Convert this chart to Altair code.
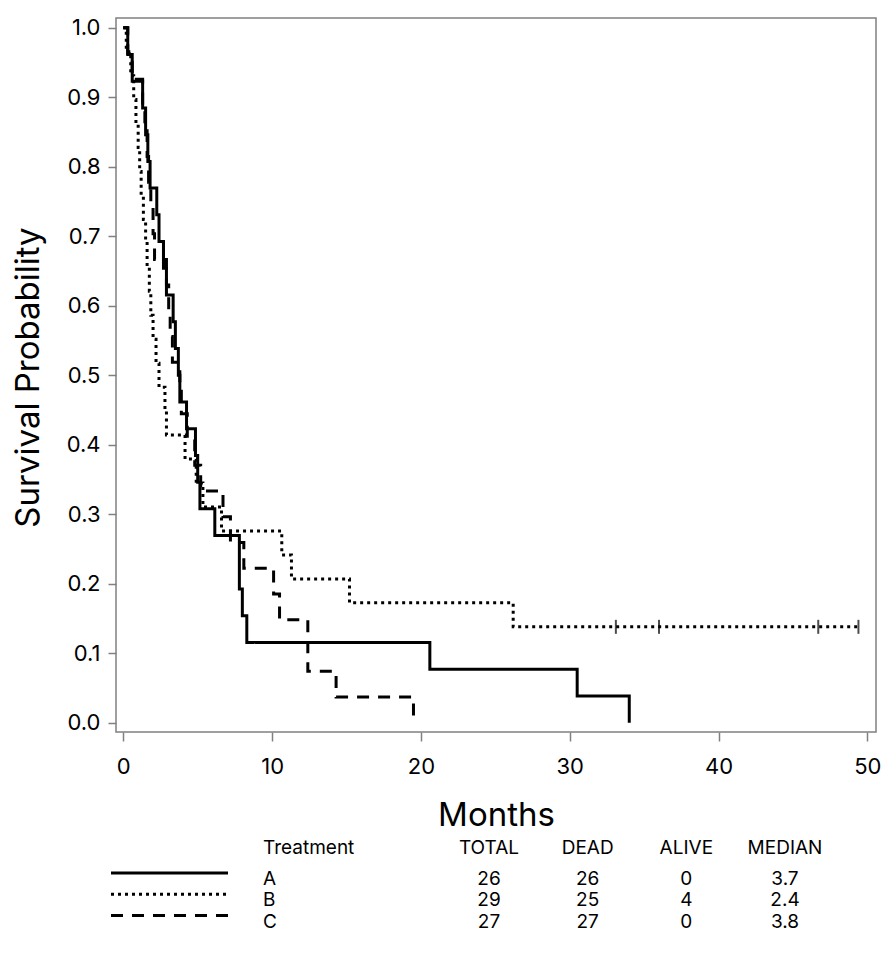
import altair as alt
import pandas as pd

# ---------------- data ----------------
groups = ["A", "B", "C"]
death_times_A = [0.3, 0.6, 1.3, 1.5, 1.65, 1.8, 2.25, 2.4, 2.7, 2.9, 3.35, 3.5, 3.7,
                 3.8, 4.25, 4.85, 5.0, 5.15, 6.15, 7.8, 7.8, 8.0, 8.3, 20.6, 30.5, 34.0]
death_times_B = [0.2, 0.5, 0.7, 0.85, 1.0, 1.1, 1.2, 1.35, 1.5, 1.6, 1.75, 1.85, 2.0,
                 2.2, 2.4, 2.8, 2.9, 4.15, 4.9, 5.35, 6.6, 10.65, 11.3, 15.2, 26.2]
censor_times_B = [33.1, 36.0, 46.7, 49.4]
death_times_C = [0.3, 0.6, 1.3, 1.45, 1.6, 1.7, 1.85, 2.0, 2.1, 2.9, 3.05, 3.15, 3.3,
                 3.8, 3.9, 4.3, 4.8, 5.2, 6.7, 7.2, 8.1, 10.1, 10.5, 12.4, 12.4, 14.3, 19.5]
censor_times_A = []
censor_times_C = []

label_header = "Treatment"
table_cols = ["TOTAL", "DEAD", "ALIVE", "MEDIAN"]
total = ["26", "29", "27"]
dead = ["26", "25", "27"]
alive = ["0", "4", "0"]
median = ["3.7", "2.4", "3.8"]

x_ticks = [0, 10, 20, 30, 40, 50]
y_ticks = [0.0, 0.1, 0.2, 0.3, 0.4, 0.5, 0.6, 0.7, 0.8, 0.9, 1.0]

FONT = "Inter"

# ---------------- Kaplan-Meier curves ----------------
curve_rows = []
censor_rows = []
for g, deaths, cens in [("A", death_times_A, censor_times_A),
                        ("B", death_times_B, censor_times_B),
                        ("C", death_times_C, censor_times_C)]:
    events = sorted([(t, 1) for t in deaths] + [(t, 0) for t in cens])
    n = len(events)
    s = 1.0
    idx = 0
    curve_rows.append({"group": g, "t": 0.0, "S": s, "idx": idx})
    for t, d in events:
        idx += 1
        if d:
            s *= (1 - 1 / n)
            curve_rows.append({"group": g, "t": t, "S": s, "idx": idx})
        else:
            censor_rows.append({"group": g, "t": t, "S": s})
        n -= 1
    if events and events[-1][1] == 0:
        curve_rows.append({"group": g, "t": events[-1][0], "S": s, "idx": idx + 1})

curves = pd.DataFrame(curve_rows)
censored = pd.DataFrame(censor_rows)

dash_scale = alt.Scale(domain=groups, range=[[1, 0], [3, 4], [12, 9]])

xs = alt.Scale(domain=[-0.49, 50.58], nice=False, zero=False)
ys = alt.Scale(domain=[-0.0134, 1.014], nice=False, zero=False)

x_axis = alt.Axis(values=x_ticks, title="Months", labelFontSize=22, tickSize=9,
                  labelPadding=32, labelBaseline="alphabetic",
                  titleFontSize=33, titleFontWeight="normal", titleX=380, titleY=93,
                  titleAlign="center", titleBaseline="alphabetic")
y_axis = alt.Axis(values=y_ticks, format=".1f", title="Survival Probability",
                  labelFontSize=22, tickSize=8, labelPadding=8,
                  titleFontSize=33, titleFontWeight="normal", titleAngle=-90,
                  titleX=-78, titleY=359, titleAlign="center", titleBaseline="alphabetic")

lines = alt.Chart(curves).mark_line(interpolate="step-after", color="black",
                                    strokeWidth=3).encode(
    x=alt.X("t:Q", scale=xs, axis=x_axis),
    y=alt.Y("S:Q", scale=ys, axis=y_axis),
    strokeDash=alt.StrokeDash("group:N", scale=dash_scale, legend=None),
    order=alt.Order("idx:Q"),
)

ticks = alt.Chart(censored).mark_tick(orient="vertical", color="black",
                                      thickness=2, size=14).encode(
    x=alt.X("t:Q", scale=xs),
    y=alt.Y("S:Q", scale=ys),
)

plot = alt.layer(lines, ticks)

# ---------------- table under the plot ----------------
cell_rows = []
for i, g in enumerate(groups):
    for c, vals in zip(table_cols, [total, dead, alive, median]):
        cell_rows.append({"row": g, "col": c, "text": vals[i]})
cells = pd.DataFrame(cell_rows)
headers = pd.DataFrame({"row": ["hdr"] * len(table_cols), "col": table_cols,
                        "text": table_cols})
group_labels = pd.DataFrame({"row": groups, "text": groups})
header_label = pd.DataFrame({"row": ["hdr"], "text": [label_header]})
samples = pd.DataFrame({"row": groups, "group": groups})

row_scale = alt.Scale(type="point", domain=["hdr"] + groups, range=[839.75, 903.5],
                      padding=0)
col_scale = alt.Scale(type="point", domain=table_cols, range=[373, 669], padding=0)

text_style = dict(font=FONT, fontSize=19, color="black", baseline="middle")

cell_text = alt.Chart(cells).mark_text(align="center", **text_style).encode(
    x=alt.X("col:N", scale=col_scale, axis=None),
    y=alt.Y("row:N", scale=row_scale, axis=None),
    text="text:N",
)
header_text = alt.Chart(headers).mark_text(align="center", dy=-10, **text_style).encode(
    x=alt.X("col:N", scale=col_scale, axis=None),
    y=alt.Y("row:N", scale=row_scale, axis=None),
    text="text:N",
)
label_text = alt.Chart(group_labels).mark_text(align="left", **text_style).encode(
    x=alt.value(147),
    y=alt.Y("row:N", scale=row_scale, axis=None),
    text="text:N",
)
label_header_text = alt.Chart(header_label).mark_text(align="left", dy=-10,
                                                      **text_style).encode(
    x=alt.value(147),
    y=alt.Y("row:N", scale=row_scale, axis=None),
    text="text:N",
)
sample_lines = alt.Chart(samples).mark_rule(color="black", strokeWidth=3,
                                            yOffset=-6).encode(
    x=alt.value(-5),
    x2=alt.value(112),
    y=alt.Y("row:N", scale=row_scale, axis=None),
    strokeDash=alt.StrokeDash("group:N", scale=dash_scale, legend=None),
)

table = alt.layer(sample_lines, label_text, label_header_text, header_text, cell_text)

chart = alt.layer(plot, table).resolve_scale(x="independent", y="independent").properties(
    width=760, height=714,
    autosize=alt.AutoSizeParams(type="none"),
    padding={"left": 108, "top": 10, "right": 10, "bottom": 205},
).configure_view(stroke="#808080", strokeWidth=1.5).configure_axis(
    labelFont=FONT, titleFont=FONT, labelColor="black", titleColor="black",
    tickColor="#808080", tickWidth=1.5, domain=False, grid=False,
)

chart.save("out.html", embed_options={"renderer": "svg", "actions": False})
